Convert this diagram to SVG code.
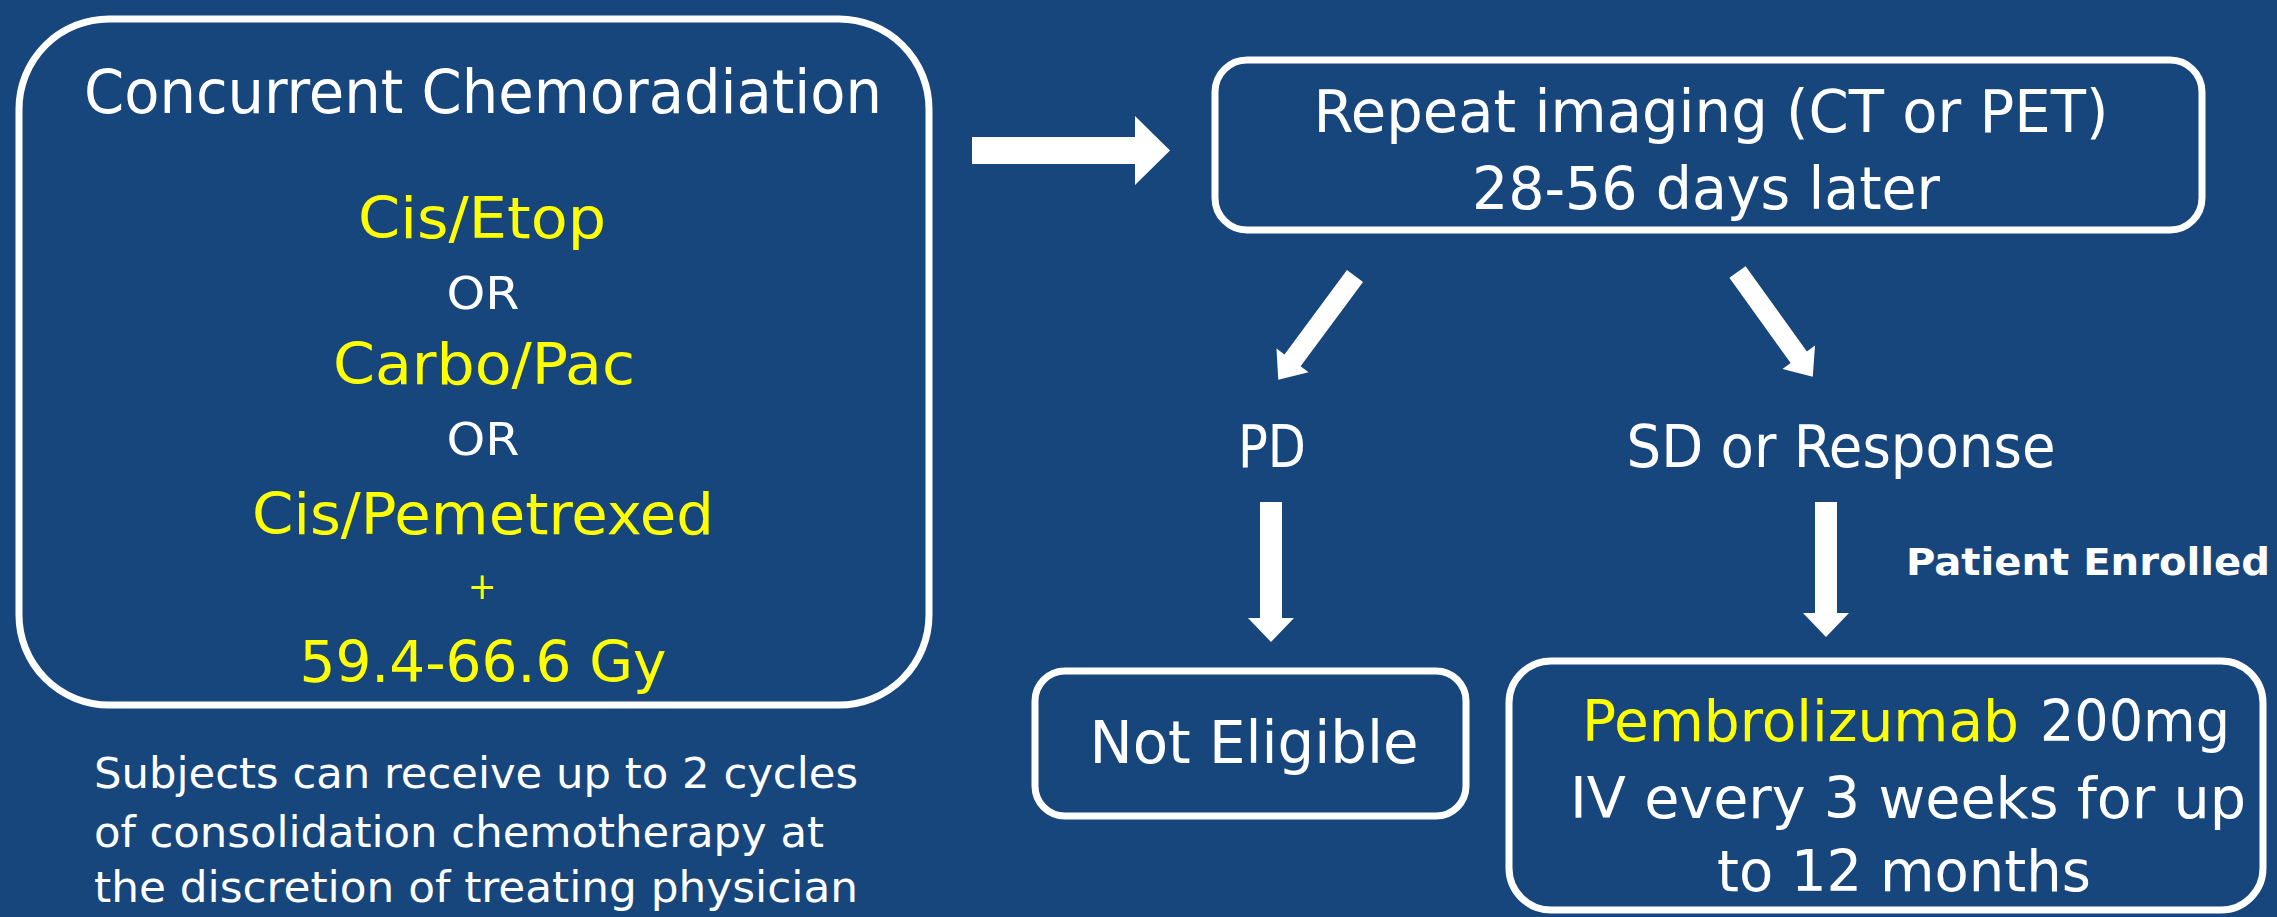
<svg xmlns="http://www.w3.org/2000/svg" width="2277" height="917" viewBox="0 0 2277 917">
<style>
.bg{fill:#17467d}
.box{fill:none;stroke:#ffffff;stroke-width:7}
.t{font-family:"DejaVu Sans Condensed","DejaVu Sans",sans-serif;fill:#ffffff}
.y{fill:#ffff00}
.w{fill:#ffffff}
.arr{fill:#ffffff}
</style>
<rect class="bg" x="0" y="0" width="2277" height="917"/>
<g id="chemoradiation">
<rect class="box" x="19" y="19" width="910" height="686" rx="90" ry="90"/>
<text class="t" x="483" y="113" font-size="60" text-anchor="middle" textLength="798" lengthAdjust="spacingAndGlyphs">Concurrent Chemoradiation</text>
<text class="t y" x="482" y="238" font-size="57" text-anchor="middle" textLength="248" lengthAdjust="spacingAndGlyphs">Cis/Etop</text>
<text class="t" x="483" y="309" font-size="45" text-anchor="middle" textLength="73" lengthAdjust="spacingAndGlyphs">OR</text>
<text class="t y" x="484" y="384" font-size="57" text-anchor="middle" textLength="302" lengthAdjust="spacingAndGlyphs">Carbo/Pac</text>
<text class="t" x="483" y="455" font-size="45" text-anchor="middle" textLength="73" lengthAdjust="spacingAndGlyphs">OR</text>
<text class="t y" x="483" y="534" font-size="57" text-anchor="middle" textLength="462" lengthAdjust="spacingAndGlyphs">Cis/Pemetrexed</text>
<text class="t y" x="482" y="599" font-size="38" text-anchor="middle">+</text>
<text class="t y" x="483" y="682" font-size="57" text-anchor="middle" textLength="367" lengthAdjust="spacingAndGlyphs">59.4-66.6 Gy</text>
</g>
<g id="consolidation-note">
<text class="t" x="94" y="788" font-size="43" textLength="764" lengthAdjust="spacingAndGlyphs">Subjects can receive up to 2 cycles</text>
<text class="t" x="94" y="847" font-size="43" textLength="730" lengthAdjust="spacingAndGlyphs">of consolidation chemotherapy at</text>
<text class="t" x="94" y="902" font-size="43" textLength="764" lengthAdjust="spacingAndGlyphs">the discretion of treating physician</text>
</g>
<g id="repeat-imaging">
<rect class="box" x="1215" y="60" width="987" height="170" rx="32" ry="32"/>
<text class="t" x="1711" y="132" font-size="58" text-anchor="middle" textLength="795" lengthAdjust="spacingAndGlyphs">Repeat imaging (CT or PET)</text>
<text class="t" x="1706" y="209" font-size="58" text-anchor="middle" textLength="468" lengthAdjust="spacingAndGlyphs">28-56 days later</text>
</g>
<g id="pd">
<text class="t" x="1272" y="467" font-size="58" text-anchor="middle" textLength="68" lengthAdjust="spacingAndGlyphs">PD</text>
</g>
<g id="sd-response">
<text class="t" x="1841" y="467" font-size="58" text-anchor="middle" textLength="429" lengthAdjust="spacingAndGlyphs">SD or Response</text>
</g>
<g id="patient-enrolled">
<text class="t" x="1906" y="575" font-size="37" font-weight="bold" textLength="364" lengthAdjust="spacingAndGlyphs">Patient Enrolled</text>
</g>
<g id="not-eligible">
<rect class="box" x="1035" y="671" width="431" height="145" rx="30" ry="30"/>
<text class="t" x="1254" y="763" font-size="58" text-anchor="middle" textLength="329" lengthAdjust="spacingAndGlyphs">Not Eligible</text>
</g>
<g id="pembrolizumab">
<rect class="box" x="1509" y="661" width="754" height="249" rx="42" ry="42"/>
<text class="t" x="1582" y="741" font-size="57"><tspan class="y" textLength="437" lengthAdjust="spacingAndGlyphs">Pembrolizumab</tspan><tspan class="w" x="2040" textLength="190" lengthAdjust="spacingAndGlyphs">200mg</tspan></text>
<text class="t" x="1908" y="818" font-size="57" text-anchor="middle" textLength="676" lengthAdjust="spacingAndGlyphs">IV every 3 weeks for up</text>
<text class="t" x="1904" y="891" font-size="57" text-anchor="middle" textLength="374" lengthAdjust="spacingAndGlyphs">to 12 months</text>
</g>
<g id="connectors">
<polygon class="arr" points="972,137 1135,137 1135,116 1170,150.5 1135,185 1135,164 972,164"/>
<polygon class="arr" transform="translate(1355,276) rotate(36.5)" points="-10,0 10,0 10,105 20,105 0,129 -20,105 -10,105"/>
<polygon class="arr" transform="translate(1737.5,272) rotate(-35.7)" points="-10,0 10,0 10,105 20,105 0,129 -20,105 -10,105"/>
<polygon class="arr" transform="translate(1271,502)" points="-11,0 11,0 11,116 23,116 0,140 -23,116 -11,116"/>
<polygon class="arr" transform="translate(1826,502)" points="-11,0 11,0 11,111 23,111 0,135 -23,111 -11,111"/>
</g>
</svg>
